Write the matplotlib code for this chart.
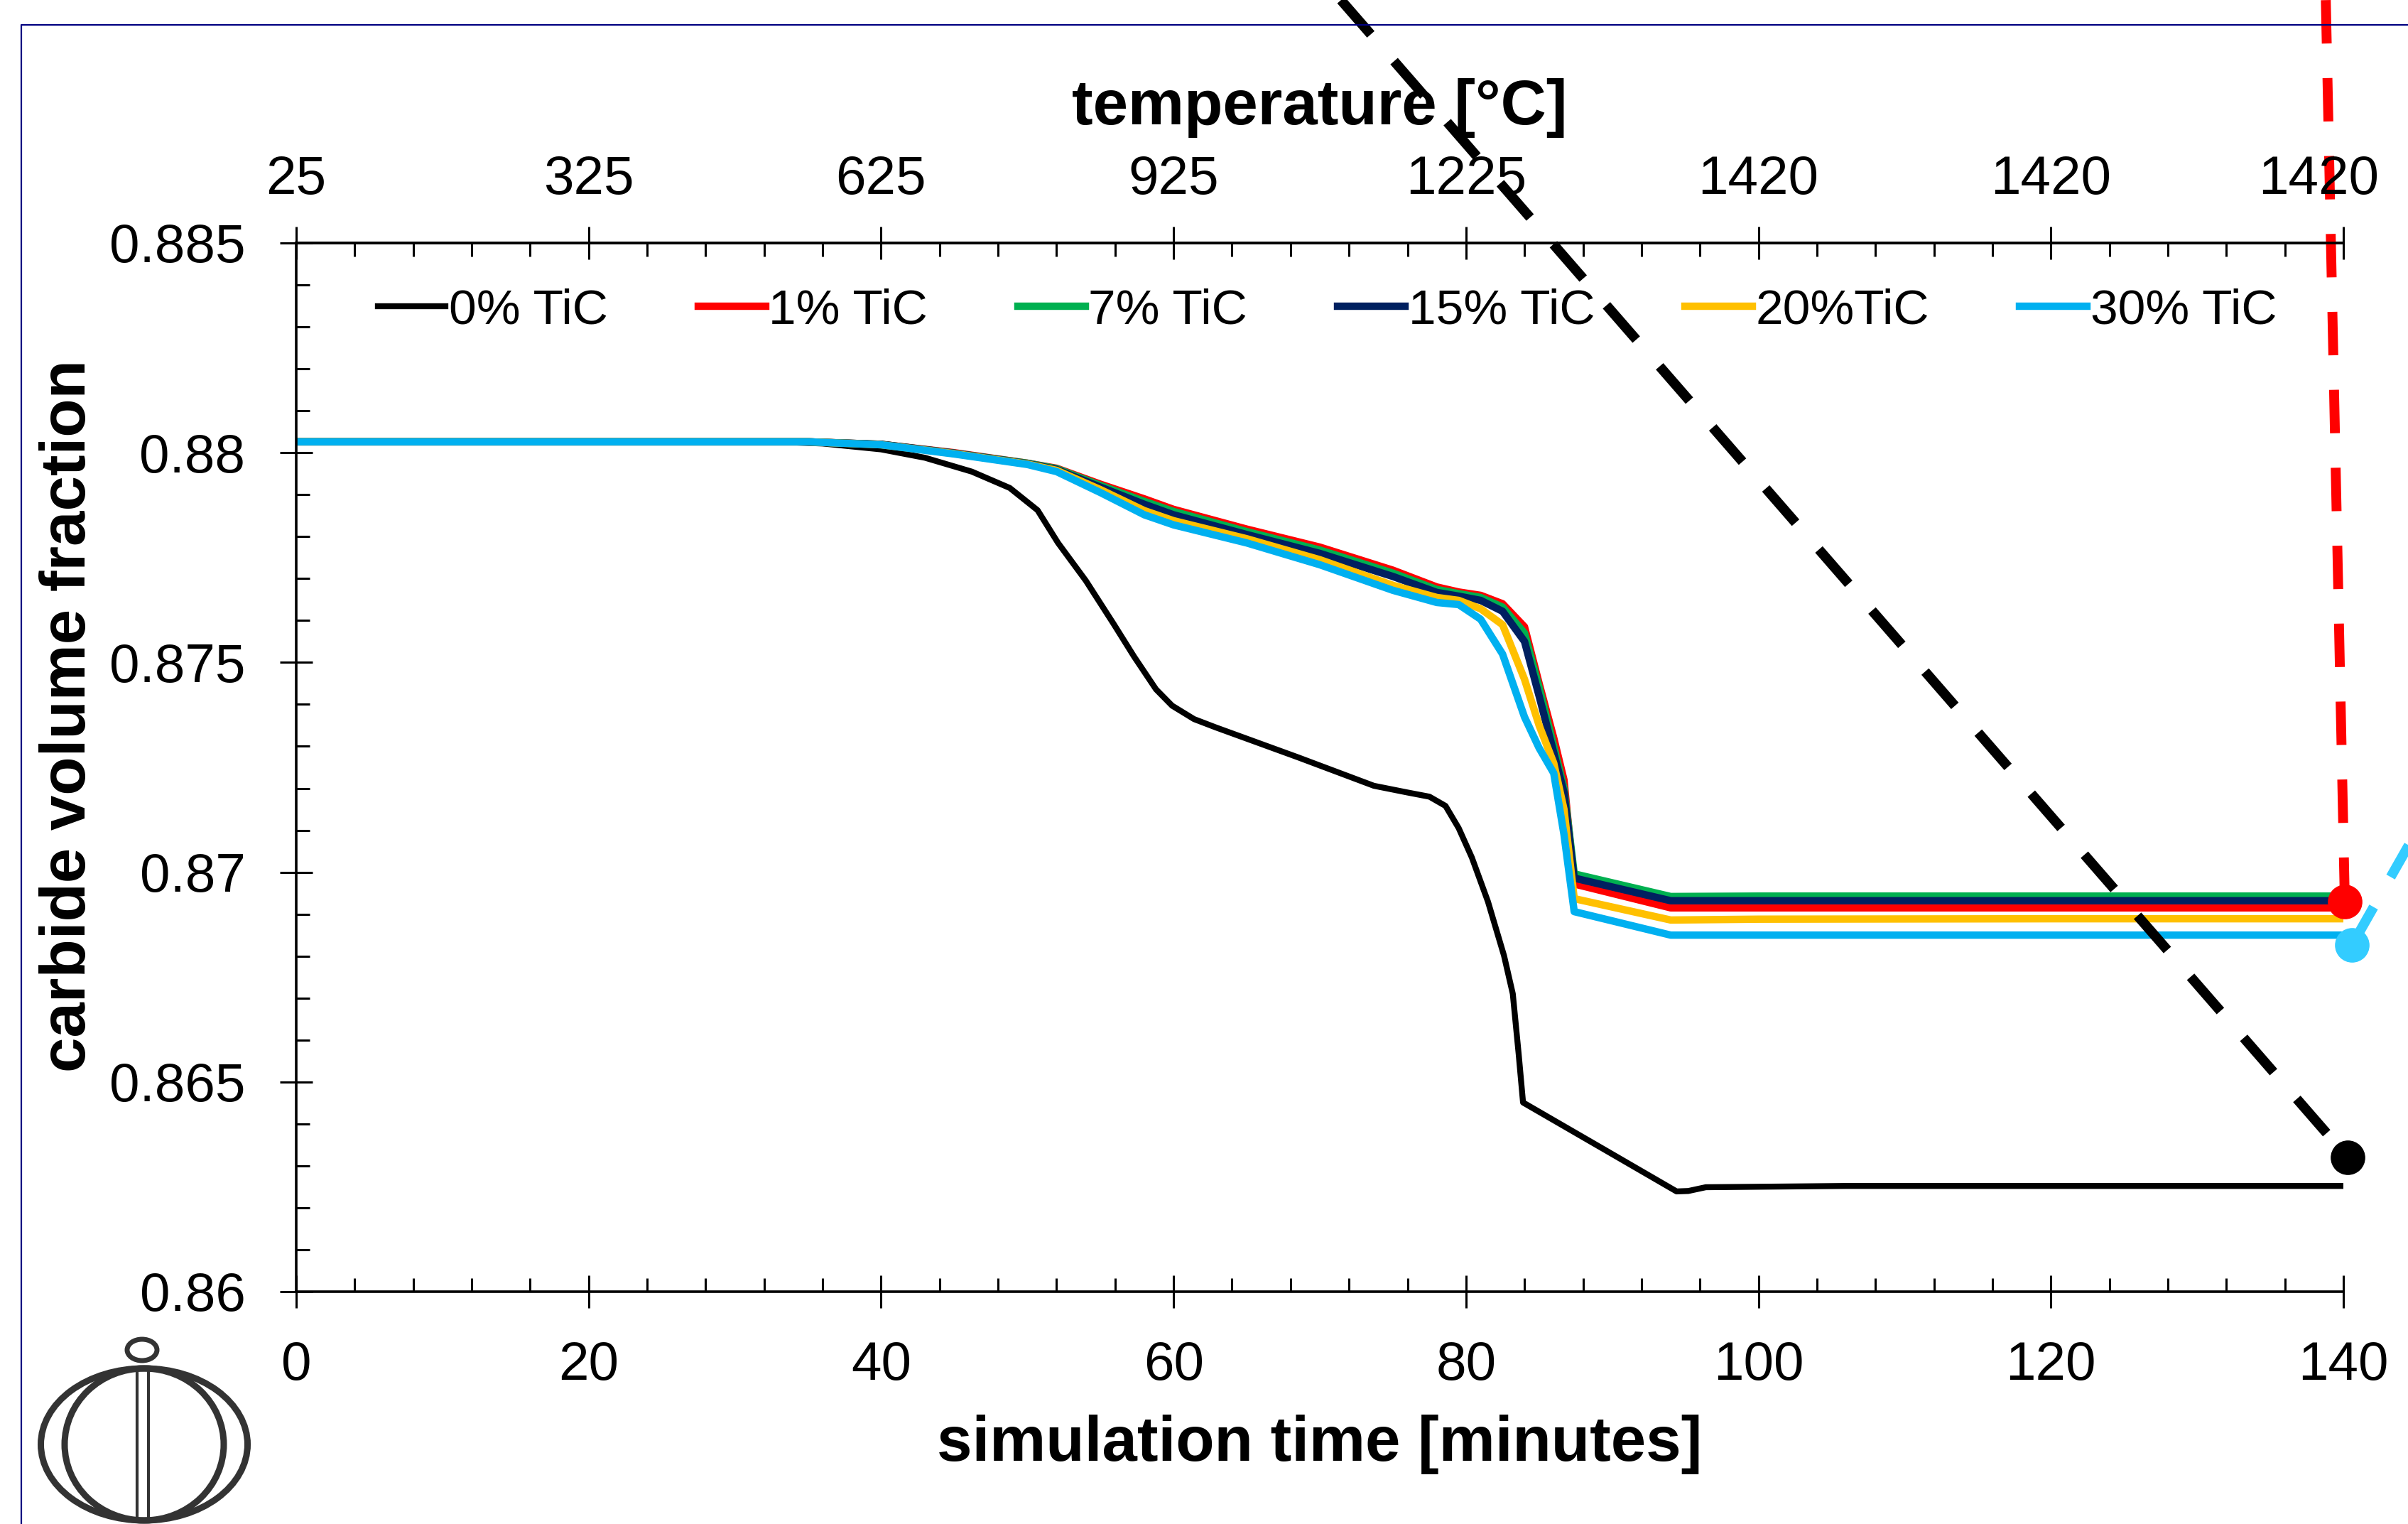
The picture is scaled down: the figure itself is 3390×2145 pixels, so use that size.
import matplotlib

matplotlib.use("Agg")
import matplotlib.pyplot as plt
from matplotlib.lines import Line2D
from matplotlib.patches import Ellipse
from matplotlib.transforms import ScaledTranslation

plt.rcParams["font.family"] = ["Liberation Sans", "DejaVu Sans"]

# ---- data ------------------------------------------------------------------
t_plain = [0, 33, 36, 40, 43, 46.2, 48.8, 50.7, 52.1, 54, 55.9, 57.3, 58.8, 59.9,
           61.4, 62.9, 68.5, 73.7, 76, 77.5, 78.6, 79.5, 80.4, 81.5, 82.6, 83.2,
           83.6, 83.9, 89.7, 94.4, 95.2, 96.4, 106, 140]
tic0 = [0.88026, 0.88026, 0.88022, 0.88008, 0.87988, 0.87955, 0.87916, 0.87863,
        0.87785, 0.87695, 0.87592, 0.87514, 0.87436, 0.87397, 0.87365, 0.87345,
        0.87274, 0.87206, 0.87190, 0.87180, 0.87158, 0.87105, 0.87035, 0.86930,
        0.86801, 0.86710, 0.86567, 0.86451, 0.86334, 0.86239, 0.86240, 0.86249,
        0.86252, 0.86252]

t_tic = [0, 35, 40, 45, 50, 52, 55, 58, 60, 65, 70, 75, 78, 79.5, 81, 82.5, 84,
         85, 86, 86.7, 87.4, 94, 100, 120, 140]
tic1 = [0.88026, 0.88026, 0.88020, 0.88000, 0.87975, 0.87963, 0.87925, 0.87890,
        0.87865, 0.87818, 0.87775, 0.87720, 0.87680, 0.87668, 0.87660, 0.87640,
        0.87585, 0.87450, 0.87320, 0.87220, 0.86972, 0.86915, 0.86915, 0.86915,
        0.86915]
tic7 = [0.88026, 0.88026, 0.88020, 0.87999, 0.87975, 0.87962, 0.87922, 0.87884,
        0.87860, 0.87812, 0.87768, 0.87713, 0.87674, 0.87664, 0.87655, 0.87632,
        0.87570, 0.87440, 0.87300, 0.87200, 0.86996, 0.86942, 0.86943, 0.86943,
        0.86943]
tic15 = [0.88026, 0.88026, 0.88020, 0.87999, 0.87974, 0.87960, 0.87918, 0.87877,
         0.87852, 0.87805, 0.87760, 0.87705, 0.87667, 0.87658, 0.87648, 0.87622,
         0.87550, 0.87420, 0.87285, 0.87190, 0.86986, 0.86932, 0.86932, 0.86932,
         0.86932]
tic20 = [0.88026, 0.88026, 0.88019, 0.87998, 0.87973, 0.87958, 0.87912, 0.87862,
         0.87838, 0.87795, 0.87745, 0.87684, 0.87655, 0.87648, 0.87628, 0.87590,
         0.87460, 0.87350, 0.87260, 0.87150, 0.86937, 0.86886, 0.86888, 0.86889,
         0.86889]
tic30 = [0.88026, 0.88026, 0.88019, 0.87997, 0.87972, 0.87955, 0.87905, 0.87852,
         0.87828, 0.87785, 0.87733, 0.87672, 0.87643, 0.87638, 0.87603, 0.87520,
         0.87370, 0.87296, 0.87236, 0.87090, 0.86906, 0.86850, 0.86850, 0.86850,
         0.86850]

labels = ["0% TiC", "1% TiC", "7% TiC", "15% TiC", "20%TiC", "30% TiC"]
colors = ["#000000", "#FF0000", "#00B050", "#002060", "#FFC000", "#00B0F0"]

x_ticks = [0, 20, 40, 60, 80, 100, 120, 140]
temp_labels = ["25", "325", "625", "925", "1225", "1420", "1420", "1420"]
y_ticks = [0.86, 0.865, 0.87, 0.875, 0.88, 0.885]
y_ticklabels = ["0.86", "0.865", "0.87", "0.875", "0.88", "0.885"]

# callout lines coming in from outside the plot (start, end in data units)
black_call_t = [71.45, 140.3]
black_call_v = [0.89079, 0.8632]
red_call_t = [138.8, 140.1]
red_call_v = [0.89079, 0.8693]
blue_call_t = [140.6, 147.5]
blue_call_v = [0.86827, 0.8725]

# ---- figure -----------------------------------------------------------------
W, H = 3390, 2145
fig = plt.figure(figsize=(W / 100, H / 100), dpi=100)
ax = fig.add_axes([417 / W, 1 - 1818 / H, (3299 - 417) / W, (1818 - 342) / H])

series = [(t_plain, tic0), (t_tic, tic1), (t_tic, tic7), (t_tic, tic15),
          (t_tic, tic20), (t_tic, tic30)]
for (tt, vv), lab, c in zip(series, labels, colors):
    lw = 6 if c == "#000000" else 7.5
    ax.plot(tt, vv, color=c, lw=lw, label=lab, solid_joinstyle="round")

ax.set_xlim(0, 140)
ax.set_ylim(0.86, 0.885)
ax.set_xticks(x_ticks)
ax.set_xticks([v for v in range(0, 141, 4) if v % 20], minor=True)
ax.set_yticks(y_ticks)
ax.set_yticklabels(y_ticklabels)
ax.set_yticks([0.86 + i * 0.001 for i in range(26) if i % 5], minor=True)

ax.spines["right"].set_visible(False)
for s in ("left", "bottom", "top"):
    ax.spines[s].set_linewidth(2.6)

ax.tick_params(which="major", direction="inout", length=33, width=2.2,
               labelsize=55, pad=33)
ax.tick_params(which="minor", direction="in", length=14, width=2.2)
ax.tick_params(axis="y", which="major", pad=35)

ax2 = ax.twiny()
ax2.set_xlim(0, 140)
ax2.set_xticks(x_ticks)
ax2.set_xticklabels(temp_labels)
ax2.set_xticks([v for v in range(0, 141, 4) if v % 20], minor=True)
for s in ("right", "bottom", "left"):
    ax2.spines[s].set_visible(False)
ax2.spines["top"].set_linewidth(2.6)
ax2.tick_params(which="major", direction="inout", length=33, width=2.2,
                labelsize=55, pad=22)
ax2.tick_params(which="minor", direction="in", length=14, width=2.2)
last = ax2.get_xticklabels()[-1]
last.set_transform(last.get_transform() + ScaledTranslation(-0.35, 0, fig.dpi_scale_trans))

ax.set_xlabel("simulation time [minutes]", fontsize=64, fontweight="bold", va="center")
ax.xaxis.set_label_coords(0.5, -0.146)
ax.set_ylabel("carbide volume fraction", fontsize=64, fontweight="bold", va="center")
ax.yaxis.set_label_coords(-0.111, 0.549)
ax2.set_xlabel("temperature [°C]", fontsize=64, fontweight="bold", va="center")
ax2.xaxis.set_label_coords(0.5, 1.129)

ax.legend(loc="center left", bbox_to_anchor=(0.04, 0.9356), ncol=6, frameon=False,
          fontsize=50, handlelength=1.37, handletextpad=0.06, columnspacing=1.83,
          borderpad=0, borderaxespad=0)

# callouts
ax.plot(black_call_t, black_call_v, color="black", lw=10, dashes=(4.6, 3.6),
        clip_on=False, zorder=5)
ax.plot(black_call_t[1:], black_call_v[1:], "o", color="black", ms=34,
        clip_on=False, zorder=6)
ax.plot(red_call_t, red_call_v, color="#FF0000", lw=10, dashes=(4.4, 3.5),
        clip_on=False, zorder=5)
ax.plot(red_call_t[1:], red_call_v[1:], "o", color="#FF0000", ms=34,
        clip_on=False, zorder=6)
ax.plot(blue_call_t, blue_call_v, color="#33CCFF", lw=10, dashes=(4.4, 3.5),
        clip_on=False, zorder=5)
ax.plot(blue_call_t[:1], blue_call_v[:1], "o", color="#33CCFF", ms=34,
        clip_on=False, zorder=6)

# frame lines of the slide
fig.add_artist(Line2D([30 / W, 30 / W, 1], [0, 1 - 35 / H, 1 - 35 / H],
                      color="#000080", lw=1.6, transform=fig.transFigure))

# logo bottom-left
logo = "#333333"
fig.add_artist(Ellipse((203 / W, 1 - 2033 / H), 291 / W, 214 / H, fill=False,
                       ec=logo, lw=6.5, transform=fig.transFigure))
fig.add_artist(Ellipse((203 / W, 1 - 2033 / H), 224 / W, 214 / H, fill=False,
                       ec=logo, lw=6.5, transform=fig.transFigure))
for xv in (193, 209):
    fig.add_artist(Line2D([xv / W, xv / W], [1 - 1926 / H, 1 - 2140 / H],
                          color=logo, lw=3, transform=fig.transFigure))
fig.add_artist(Ellipse((200 / W, 1 - 1900 / H), 42 / W, 30 / H, fill=False,
                       ec=logo, lw=5, transform=fig.transFigure))

fig.savefig("out.png", dpi=100, facecolor="white")
